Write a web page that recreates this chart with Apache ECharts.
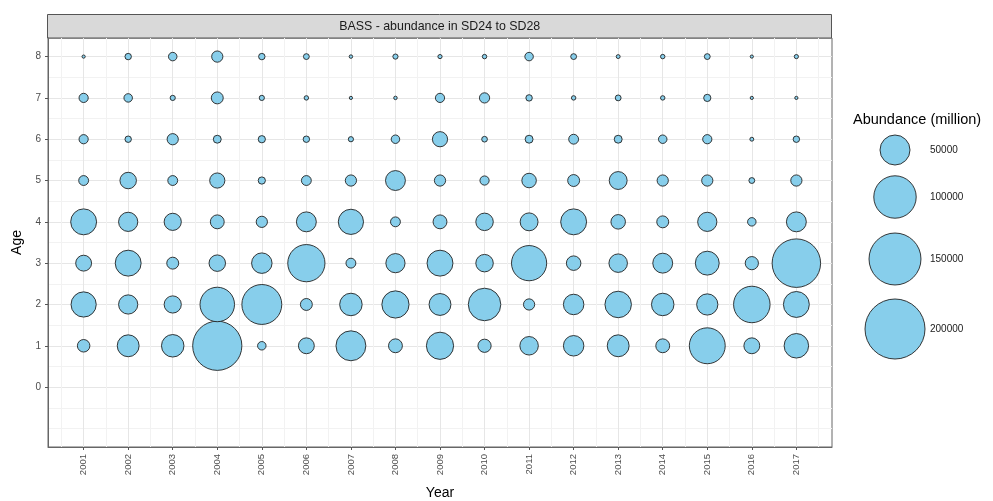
<!DOCTYPE html>
<html>
<head>
<meta charset="utf-8">
<script src="https://cdn.jsdelivr.net/npm/echarts@6/dist/echarts.min.js"></script>
<style>
html,body{margin:0;padding:0;background:#fff}
#chart{width:993px;height:501px}
</style>
</head>
<body>
<div id="chart"></div>
<script>
const years = [2001,2002,2003,2004,2005,2006,2007,2008,2009,2010,2011,2012,2013,2014,2015,2016,2017]
const ages = [0,1,2,3,4,5,6,7,8]

// abundance (million) per age, one value per year 2001..2017
const age1 = [8700,26600,28100,134500,4000,14000,49700,10700,41100,9700,19000,23300,26600,10700,71600,14000,33400]
const age2 = [35300,20500,16400,66100,88500,7900,28100,41100,26600,58700,7000,23300,39000,28100,25000,74000,37300]
const age3 = [14000,37300,7900,15100,23300,76900,5400,20500,37300,17000,68800,11700,19000,22000,31700,9700,130700]
const age4 = [37300,20500,16400,10700,7000,22000,35300,5400,10700,17000,17800,37300,11700,7900,20500,4000,22000]
const age5 = [5400,15100,5400,12800,2900,5400,7000,22000,7000,4700,11700,7900,17800,7000,7000,1900,7000]
const age6 = [4700,2300,7000,3500,2900,2300,1500,4000,12800,1800,3500,5400,3500,4000,4700,850,2300]
const age7 = [4700,4000,1500,7900,1500,1100,570,680,4700,5800,2300,1100,1900,1100,2900,570,570]
const age8 = [570,2300,4000,7000,2300,1900,680,1500,980,1100,4000,1900,850,1100,1900,570,980]

const legendValues = [50000,100000,150000,200000]

const font = 'Liberation Sans, Arial, sans-serif'
const rows = [age1,age2,age3,age4,age5,age6,age7,age8]
const points = []
rows.forEach((vals, i) => {
  vals.forEach((v, j) => points.push([years[j], i + 1, v]))
})

// area-proportional size, 50000 -> 30px
const sizeScale = v => 30 * Math.sqrt(v / 50000)

// minor gridlines sit half way between breaks
const minorX = years.map(y => y - 0.5).concat([2017.5])
const minorY = [-1].concat(ages.map(a => a - 0.5))

const legendY = [150, 197, 259, 329]
const legendGraphics = [{
  type: 'text', left: 853, top: 112,
  style: {text: 'Abundance (million)', font: '14.5px ' + font, fill: '#000'}
}]
legendValues.forEach((v, i) => {
  legendGraphics.push({
    type: 'circle',
    shape: {cx: 895, cy: legendY[i], r: sizeScale(v) / 2},
    style: {fill: '#87CEEB', stroke: '#222', lineWidth: 0.9}
  })
  legendGraphics.push({
    type: 'text', x: 930, y: legendY[i],
    style: {text: String(v), font: '10px ' + font, fill: '#1a1a1a', verticalAlign: 'middle'}
  })
})

const chart = echarts.init(document.getElementById('chart'))
chart.setOption({
  animation: false,
  backgroundColor: '#fff',
  grid: {left: 48, right: 161, top: 38, bottom: 54, show: true, borderColor: '#666', borderWidth: 1,
    containLabel: false, outerBoundsMode: 'none'},
  xAxis: [
    {
      type: 'value', min: 2000.2, max: 2017.8, position: 'bottom',
      name: 'Year', nameLocation: 'middle', nameGap: 39,
      nameTextStyle: {fontFamily: font, fontSize: 14, color: '#000'},
      axisLine: {show: true, onZero: false, lineStyle: {color: '#666'}},
      axisTick: {show: true, length: 3, customValues: years, lineStyle: {color: '#555'}},
      axisLabel: {customValues: years, rotate: 90, margin: 7, fontSize: 9.5, fontFamily: font, color: '#4d4d4d',
        formatter: v => String(v)},
      splitLine: {show: true, lineStyle: {color: '#e6e6e6', width: 1}}
    },
    {
      // minor gridlines only
      type: 'value', min: 2000.2, max: 2017.8, position: 'top',
      axisLine: {show: false, onZero: false},
      axisTick: {show: false, customValues: minorX},
      axisLabel: {show: false},
      splitLine: {show: true, lineStyle: {color: '#f2f2f2', width: 1}}
    }
  ],
  yAxis: [
    {
      type: 'value', min: -1.45, max: 8.45, position: 'left',
      name: 'Age', nameLocation: 'middle', nameGap: 22, nameRotate: 90,
      nameTextStyle: {fontFamily: font, fontSize: 14, color: '#000'},
      axisLine: {show: true, onZero: false, lineStyle: {color: '#666'}},
      axisTick: {show: true, length: 3, customValues: ages, lineStyle: {color: '#555'}},
      axisLabel: {customValues: ages, margin: 7, fontSize: 10, fontFamily: font, color: '#4d4d4d'},
      splitLine: {show: true, lineStyle: {color: '#e6e6e6', width: 1}}
    },
    {
      type: 'value', min: -1.45, max: 8.45, position: 'right',
      axisLine: {show: false, onZero: false},
      axisTick: {show: false, customValues: minorY},
      axisLabel: {show: false},
      splitLine: {show: true, lineStyle: {color: '#f2f2f2', width: 1}}
    }
  ],
  series: [{
    type: 'scatter',
    xAxisIndex: 0, yAxisIndex: 0,
    data: points,
    symbolSize: d => sizeScale(d[2]),
    itemStyle: {color: '#87CEEB', borderColor: '#222', borderWidth: 0.9, opacity: 1},
    emphasis: {disabled: true}
  }],
  graphic: [
    {
      type: 'rect', shape: {x: 47.5, y: 14.5, width: 784, height: 23.5},
      style: {fill: '#d9d9d9', stroke: '#555', lineWidth: 1}
    },
    {
      type: 'text', x: 439.7, y: 26.5,
      style: {text: 'BASS - abundance in SD24 to SD28', font: '12.4px ' + font, fill: '#1a1a1a',
        align: 'center', verticalAlign: 'middle'}
    }
  ].concat(legendGraphics)
})
</script>
</body>
</html>
